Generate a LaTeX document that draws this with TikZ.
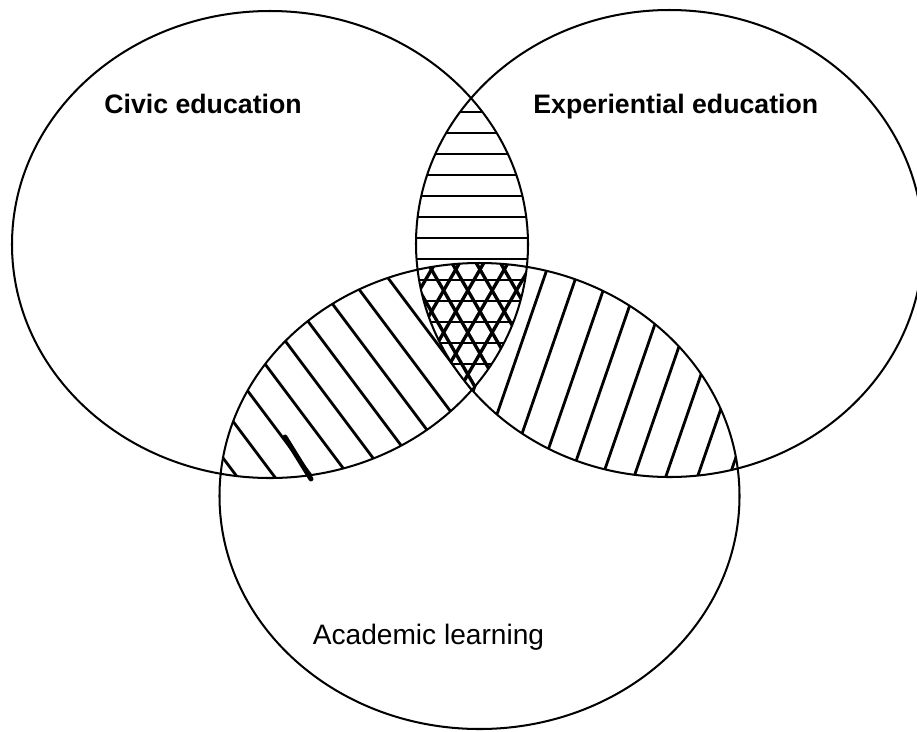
\documentclass[tikz,border=0pt]{standalone}
\usepackage{fontspec}
\setmainfont{Liberation Sans}

\begin{document}
\begin{tikzpicture}[x = 0.02cm, y = -0.02cm,
		ring/.style={draw, line width = 1.15pt},
		hatch/.style={line width = 1.6pt},
		mesh/.style={line width = 1.9pt},
		setname/.style={inner sep = 0pt, anchor = base west, font = \bfseries\fontsize{15.2pt}{18pt}\selectfont}
	]
	
	\useasboundingbox (0, 0) rectangle (917, 731);
	
	\begin{scope}
		\clip (270, 244.5) ellipse [x radius = 258, y radius = 233.5];
		\clip (479.5, 496) ellipse [x radius = 260, y radius = 233];
		\foreach \k in {-5,...,9}
			\draw[hatch, shift={(24*\k, -18*\k)}] (108.3, 105) -- (468.3, 585);
	\end{scope}
	
	\begin{scope}
		\clip (669.5, 243.5) ellipse [x radius = 253.5, y radius = 233.5];
		\clip (479.5, 496) ellipse [x radius = 260, y radius = 233];
		\foreach \k in {-5,...,9}
			\draw[hatch, shift={(28.35*\k, 9.78*\k)}] (687.4, -45.8) -- (459.2, 615.8);
	\end{scope}
	
	\begin{scope}
		\clip (270, 244.5) ellipse [x radius = 258, y radius = 233.5];
		\clip (669.5, 243.5) ellipse [x radius = 253.5, y radius = 233.5];
		\begin{scope}
			\clip (479.5, 496) ellipse [x radius = 260, y radius = 233];
			\fill[white] (380, 240) rectangle (580, 400);
			\foreach \k in {-6,...,6} {
				\draw[mesh, shift={(18.19*\k, -10.5*\k)}] (380, 138.3) -- (580, 484.7);
				\draw[mesh, shift={(18.19*\k, 10.5*\k)}] (580, 138.3) -- (380, 484.7);
			}
		\end{scope}
		\foreach \k in {0,...,12}
			\draw[hatch] (400, 112 + 21*\k) -- (560, 112 + 21*\k);
	\end{scope}
	
	\draw[line width = 2.8pt, line cap = round] (285, 437) -- (311, 479);
	
	\draw[ring] (270, 244.5) ellipse [x radius = 258, y radius = 233.5];
	\draw[ring] (669.5, 243.5) ellipse [x radius = 253.5, y radius = 233.5];
	\draw[ring] (479.5, 496) ellipse [x radius = 260, y radius = 233];
	
	\node[setname] (civic) at (104, 113) {Civic education};
	\node[setname] (experiential) at (533, 113) {Experiential education};
	\node[setname, font = \fontsize{16pt}{19pt}\selectfont] (academic) at (312.5, 644) {Academic learning};
	
\end{tikzpicture}
\end{document}
